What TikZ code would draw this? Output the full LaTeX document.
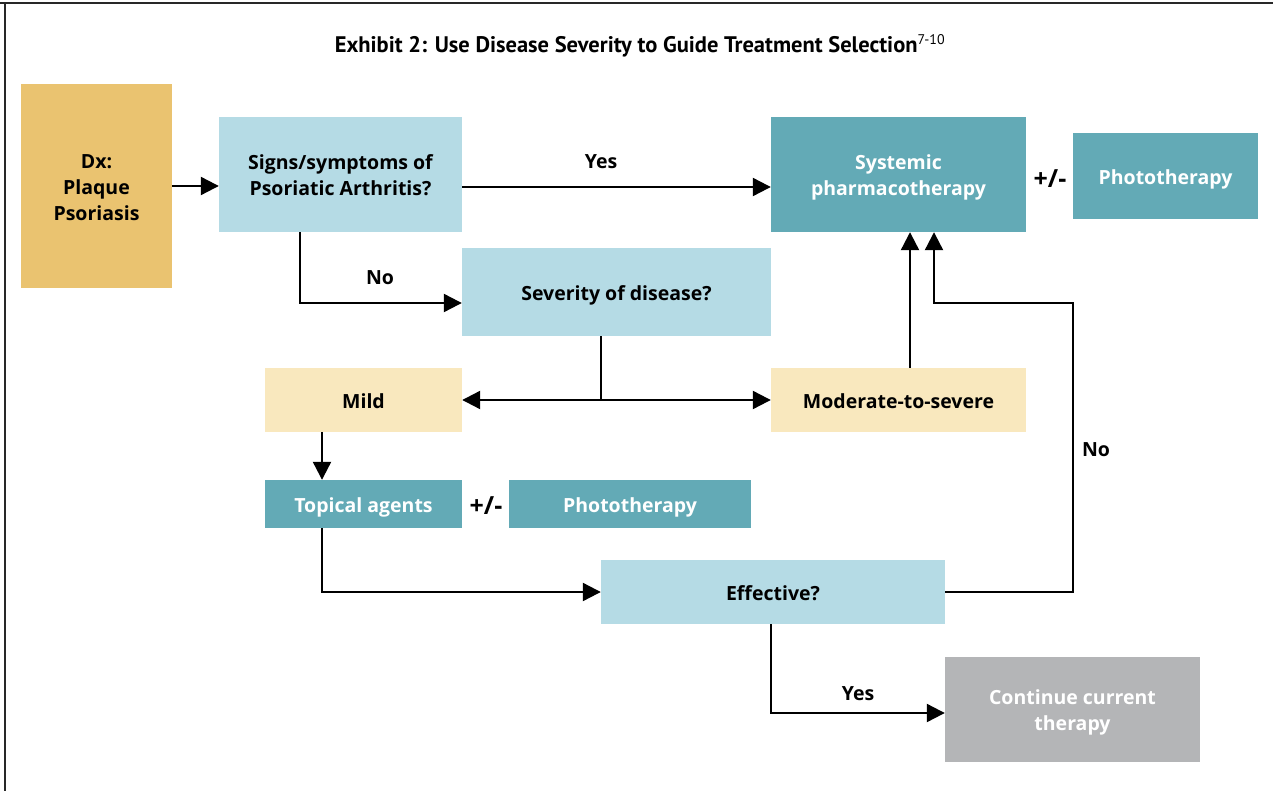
\documentclass[tikz,border=0pt]{standalone}
\usepackage{fontspec}
\setmainfont{Open Sans}
\newfontfamily\titlefont{PT Sans}
\usetikzlibrary{arrows.meta}
\definecolor{goldbox}{RGB}{234,195,112}
\definecolor{paleblue}{RGB}{181,219,229}
\definecolor{tealbox}{RGB}{99,170,182}
\definecolor{creambox}{RGB}{249,232,190}
\definecolor{greybox}{RGB}{180,181,183}
\definecolor{frameline}{RGB}{40,40,40}
% centred block of lines, set a little below the middle of its box
\newcommand{\boxlines}[1]{\raisebox{-8pt}[0pt][0pt]{\begin{tabular}{@{}c@{}}#1\end{tabular}}}
\tikzset{
  box/.style={rectangle, inner sep=0pt, font=\fontsize{19.5}{26}\selectfont\bfseries},
  darktext/.style={box, text=black},
  lighttext/.style={box, text=white},
  arr/.style={line width=2.2pt, -{Triangle[length=18pt,width=18pt]}},
  plain/.style={line width=2.2pt},
  lbl/.style={font=\fontsize{19.5}{20}\selectfont\bfseries, inner sep=0pt},
  pm/.style={font=\fontsize{25}{26}\selectfont\bfseries, inner sep=0pt}
}
\begin{document}
\begin{tikzpicture}[x=1pt,y=-1pt]
\useasboundingbox (0,0) rectangle (1273,791);
\fill[white] (0,0) rectangle (1273,791);
% frame
\draw[frameline, line width=2.5pt] (0,3) -- (1273,3);
\draw[frameline, line width=2pt] (5,3) -- (5,791);
% title
\node[font=\titlefont\fontsize{22.5}{24}\selectfont\bfseries, inner sep=0pt] (title) at (640,46)
  {Exhibit 2: Use Disease Severity to Guide Treatment Selection\textsuperscript{\fontsize{14}{14}\selectfont\mdseries 7-10}};
% boxes
\node[darktext, fill=goldbox, minimum width=151pt, minimum height=204pt] (dx) at (96.5,186) {\boxlines{Dx:\\Plaque\\Psoriasis}};
\node[darktext, fill=paleblue, minimum width=243pt, minimum height=115pt] (signs) at (340.5,174.5) {\boxlines{Signs/symptoms of\\Psoriatic Arthritis?}};
\node[lighttext, fill=tealbox, minimum width=255pt, minimum height=115pt] (systemic) at (898.5,174.5) {\boxlines{Systemic\\pharmacotherapy}};
\node[lighttext, fill=tealbox, minimum width=185pt, minimum height=86pt] (photoA) at (1165.5,176) {\boxlines{Phototherapy}};
\node[darktext, fill=paleblue, minimum width=309pt, minimum height=88pt] (severity) at (616.5,292) {\boxlines{Severity of disease?}};
\node[darktext, fill=creambox, minimum width=197pt, minimum height=64pt] (mild) at (363.5,400) {\boxlines{Mild}};
\node[darktext, fill=creambox, minimum width=255pt, minimum height=64pt] (moderate) at (898.5,400) {\boxlines{Moderate-to-severe}};
\node[lighttext, fill=tealbox, minimum width=197pt, minimum height=48pt] (topical) at (363.5,504) {\boxlines{Topical agents}};
\node[lighttext, fill=tealbox, minimum width=242pt, minimum height=48pt] (photoB) at (630,504) {\boxlines{Phototherapy}};
\node[darktext, fill=paleblue, minimum width=344pt, minimum height=64pt] (effective) at (773,592) {\boxlines{Effective?}};
\node[lighttext, fill=greybox, minimum width=255pt, minimum height=105pt] (continue) at (1072.5,709.5) {\boxlines{Continue current\\therapy}};
% +/- signs
\node[pm] (pmA) at (1050,179) {+/-};
\node[pm] (pmB) at (486,506) {+/-};
% junction points
\coordinate (split) at (601,400);
\coordinate (noturn) at (1073,303);
% connectors
\draw[arr] (dx.east) -- (dx.east -| signs.west);
\draw[arr] ([yshift=-12.5pt]signs.east) -- ([yshift=-12.5pt]systemic.west);
\draw[arr] ([xshift=-40.5pt]signs.south) |- ([yshift=-11pt]severity.west);
\draw[plain] (severity.south -| split) -- (split);
\draw[arr] (split) -- (mild.east);
\draw[arr] (split) -- (moderate.west);
\draw[arr] ([xshift=11.5pt]moderate.north) -- ([xshift=11.5pt]systemic.south);
\draw[arr] ([xshift=-41.5pt]mild.south) -- ([xshift=-41.5pt]topical.north);
\draw[arr] ([xshift=-41.5pt]topical.south) |- (effective.west);
\draw[arr] (effective.east) -| (noturn) -| ([xshift=35.5pt]systemic.south);
\draw[arr] ([xshift=-2pt]effective.south) |- ([yshift=-3.5pt]continue.west);
% connector labels
\node[lbl] (yesA) at (601,162) {Yes};
\node[lbl] (noA) at (380,278) {No};
\node[lbl] (noB) at (1096,450) {No};
\node[lbl] (yesB) at (858,694) {Yes};
\end{tikzpicture}
\end{document}
